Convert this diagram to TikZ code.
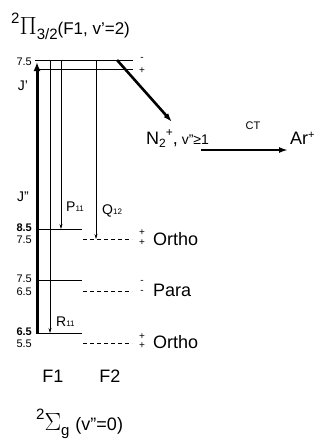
\documentclass[tikz,border=0pt]{standalone}
\usepackage{fontspec}
\setmainfont{Liberation Sans}
\usetikzlibrary{arrows.meta,positioning}

\begin{document}
\begin{tikzpicture}[x=1pt,y=-1pt,line cap=butt]
  % ----- styles -----
  \tikzset{
    lvl/.style={draw=black,line width=0.9pt},
    dlvl/.style={draw=black,line width=0.7pt,dash pattern=on 4pt off 3pt},
    pump/.style={draw=black,line width=3pt,-{Latex[length=9pt,width=7pt]}},
    emit/.style={draw=black,line width=0.6pt,-{Stealth[length=5pt,width=3pt]}},
    ionarr/.style={draw=black,line width=2.6pt,-{Latex[length=9pt,width=6pt]}},
    num/.style={font=\fontsize{11}{11}\selectfont,inner sep=0pt},
    bignum/.style={font=\fontsize{11}{11}\selectfont\bfseries,inner sep=0pt},
    big/.style={font=\fontsize{18}{18}\selectfont,inner sep=0pt},
    lab/.style={font=\fontsize{14}{14}\selectfont,inner sep=0pt},
    pm/.style={font=\fontsize{10}{10}\selectfont,inner sep=0pt}
  }
  \useasboundingbox (0,0) rectangle (324,440);

  % ----- upper state -----
  \coordinate (U1) at (35,60);
  \coordinate (U2) at (38,69);
  \draw[lvl] (U1) -- (133,60);
  \draw[lvl] (U2) -- (133,69);
  \node[pm] (um) at (142,59) {-};
  \node[pm] (up) at (142,71) {+};

  % ----- lower state levels -----
  \coordinate (L1) at (36,229);
  \coordinate (L2) at (36,280);
  \coordinate (L3) at (36,333);
  \draw[lvl] (L1) -- (82,229);
  \draw[lvl] (L2) -- (82,280);
  \draw[lvl] (L3) -- (82,333);
  \coordinate (D1) at (83,239);
  \coordinate (D2) at (83,291);
  \coordinate (D3) at (83,343);
  \draw[dlvl] (D1) -- (132,239);
  \draw[dlvl] (D2) -- (132,291);
  \draw[dlvl] (D3) -- (132,343);

  % parity signs
  \node[pm] at (142,233) {+};
  \node[pm] at (142,243) {+};
  \node[pm] at (142,282) {-};
  \node[pm] at (142,292) {-};
  \node[pm] at (142,337) {+};
  \node[pm] at (142,346) {+};

  \node[big,anchor=west] (ortho1) at (153,239) {Ortho};
  \node[big,anchor=west] (para)   at (153,290) {Para};
  \node[big,anchor=west] (ortho2) at (153,342) {Ortho};

  % ----- J labels -----
  \node[num,anchor=east] at (32,62) {7.5};
  \node[lab] at (23,86) {J'};
  \node[lab] at (23,197) {J"};
  \node[bignum,anchor=east] at (32,228) {8.5};
  \node[num,anchor=east] at (32,240) {7.5};
  \node[num,anchor=east] at (32,279) {7.5};
  \node[num,anchor=east] at (32,292) {6.5};
  \node[bignum,anchor=east] at (32,332) {6.5};
  \node[num,anchor=east] at (32,344) {5.5};

  % ----- transitions -----
  \draw[pump] (L3) ++(1,0) -- ++(0,-271);
  \draw[emit] (50,60) -- (50,333);
  \draw[emit] (61,60) -- (61,229);
  \draw[emit] (96,60) -- (96,239);

  \node[lab,anchor=base west] (P11) at (66,211) {P{\fontsize{8}{8}\selectfont 11}};
  \node[lab,anchor=base west] (Q12) at (102,214) {Q{\fontsize{8}{8}\selectfont 12}};
  \node[lab,anchor=base west] (R11) at (56,326) {R{\fontsize{8}{8}\selectfont 11}};

  % ----- ionisation and charge transfer -----
  \node[big,anchor=base west] (n2) at (146,144)
    {N{\fontsize{12}{12}\selectfont\raisebox{-3pt}{2}\raisebox{8pt}{+}},{\fontsize{14}{14}\selectfont\ v"≥1}};
  \coordinate[right=4pt of n2.base east] (ctstart);
  \node[big,anchor=base west] (ar) at (290,144)
    {Ar{\fontsize{11}{11}\selectfont\raisebox{6pt}{+}}};
  \draw[ionarr] (117,60) -- (172,122);
  \draw[ionarr] ([shift={(-12pt,-6pt)}]ctstart) -- ([shift={(-2pt,-6pt)}]ar.base west);
  \node[num] (ct) at (253,126) {CT};

  % ----- F labels -----
  \node[big] (F1) at (53,376) {F1};
  \node[big] (F2) at (110,376) {F2};

  % ----- state names -----
  \node[anchor=base west,inner sep=0pt] (upper) at (11,34)
    {{\fontsize{15}{15}\selectfont\raisebox{11pt}{2}}{\fontsize{26}{26}\selectfont$\Pi$}{\fontsize{15}{15}\selectfont\raisebox{-5pt}{3/2}}{\fontsize{17}{17}\selectfont(F1, v'=2)}};
  \node[anchor=base west,inner sep=0pt] (lower) at (36,430)
    {{\fontsize{15}{15}\selectfont\raisebox{11pt}{2}}{\fontsize{27}{27}\selectfont$\Sigma$}{\fontsize{15}{15}\selectfont\raisebox{-5pt}{g}}\hspace{6pt}{\fontsize{18}{18}\selectfont(v"=0)}};
\end{tikzpicture}
\end{document}
